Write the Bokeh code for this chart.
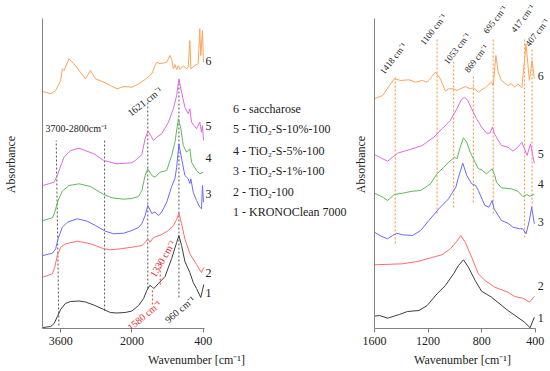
from bokeh.plotting import figure
from bokeh.models import Range1d, FixedTicker, Label, LinearAxis
from bokeh.layouts import row
from bokeh.embed import file_html
from bokeh.resources import INLINE

FONT = "Liberation Serif"

# ---------------- data: left panel (4000-400 cm-1), stacked absorbance (a.u.) ----------------
left_wn_1 = [4000, 3823, 3747, 3674, 3600, 3495, 3377, 3189, 3042, 2855, 2631, 2484, 2334, 2150, 2000,
             1850, 1738, 1665, 1598, 1553, 1508, 1404, 1256, 1107, 995, 944, 884, 810, 698, 622, 548, 453, 386]
left_ab_1 = [1, 2, 5, 12, 19, 25, 27, 27.5, 26.5, 23.5, 19, 16, 15.5, 16, 17.5,
             23, 30, 38, 43, 42, 40, 45, 52, 70, 86, 93, 83, 67, 56, 46, 40, 31, 44]

left_wn_2 = [4000, 3785, 3733, 3674, 3600, 3488, 3227, 2930, 2631, 2484, 2261, 2000, 1776, 1703, 1643,
             1591, 1515, 1330, 1180, 1069, 995, 944, 884, 810, 698, 548, 437, 386]
left_ab_2 = [51.3, 54.7, 61.3, 73, 81.3, 84.7, 87.3, 84.7, 79.7, 78.7, 79.7, 81.3, 83, 86, 89.7,
             86.3, 91, 94, 98, 103, 109, 115.5, 104.7, 89.7, 74.7, 64, 56, 61]

left_wn_3 = [4000, 3785, 3712, 3659, 3562, 3450, 3227, 3005, 2819, 2596, 2410, 2185, 2000, 1850, 1776,
             1703, 1643, 1553, 1480, 1404, 1330, 1218, 1107, 1033, 995, 944, 884, 810, 734, 698, 676,
             622, 548, 475, 437, 415, 392]
left_ab_3 = [73, 75.3, 79.7, 89.7, 101.3, 106.3, 109.7, 107.3, 103, 97.3, 94.7, 95.3, 98, 101, 105,
             113, 123, 115, 116.5, 113, 116.5, 126.3, 142, 150, 161, 184.5, 170, 153, 149.7, 145, 149.7,
             136.3, 128, 121.3, 119.7, 143, 126.3]

left_wn_4 = [4000, 3785, 3733, 3659, 3562, 3413, 3189, 2930, 2631, 2446, 2185, 2000, 1850, 1776, 1703,
             1643, 1553, 1480, 1368, 1218, 1107, 1033, 957, 899, 846, 771, 698, 660, 548, 475, 399]
left_ab_4 = [108, 110.7, 116.3, 128, 137.3, 143, 144.7, 142, 134, 130.7, 129.3, 130, 132, 138, 153,
             159.7, 153, 151.3, 156.3, 158, 173, 186.3, 209.7, 199.7, 183, 176.3, 179.7, 166.3, 158, 154.7, 156.3]

left_wn_5 = [4000, 3747, 3674, 3636, 3524, 3377, 3189, 2855, 2631, 2334, 2000, 1926, 1776, 1703, 1636,
             1515, 1442, 1330, 1180, 1069, 995, 944, 884, 810, 734, 698, 660, 548, 475, 437, 415, 392]
left_ab_5 = [143, 146.3, 153, 158, 171.3, 178, 180.3, 174.7, 168, 164.7, 165.7, 168, 174, 190, 197.5,
             188, 191.3, 194.7, 206.3, 219.7, 233, 249.7, 236.3, 221.3, 214.7, 219.7, 206.3, 199.7, 206.3, 196.3, 203, 188]

left_wn_6 = [4000, 3823, 3712, 3600, 3562, 3524, 3413, 3301, 3042, 2930, 2819, 2631, 2484, 2334, 2178,
             2000, 1850, 1703, 1553, 1480, 1442, 1368, 1218, 1145, 1107, 1069, 1033, 995, 957, 922,
             846, 771, 734, 698, 676, 587, 511, 475, 453, 415, 392]
left_ab_6 = [237, 234.7, 238, 248, 259.7, 258, 269.7, 264.7, 249.7, 258, 249.7, 246.3, 243, 239.7, 242,
             241.3, 244.7, 249, 254.7, 263, 266.3, 264.7, 266.3, 273, 269.7, 259.7, 264, 259, 263, 259,
             262.5, 260, 261.3, 288, 259.7, 263, 264.7, 299.7, 273, 298, 266.3]

# ---------------- data: right panel (1600-400 cm-1) ----------------
right_wn_1 = [1600, 1563, 1502, 1415, 1354, 1268, 1207, 1133, 1071, 1010, 973, 936, 899, 849, 801, 727, 604, 480, 439, 407]
right_ab_1 = [12.3, 13, 10.3, 14, 17, 18, 23, 34.7, 43, 54.7, 63, 68.7, 61.3, 48, 37.3, 31.3, 18, 6.3, 0.7, 11.3]

right_wn_2 = [1600, 1391, 1268, 1145, 1096, 1034, 985, 956, 923, 875, 825, 776, 702, 604, 554, 493, 444, 407]
right_ab_2 = [63.7, 64.7, 67.3, 72, 73.7, 79.7, 87.3, 93, 86.3, 71.3, 54.7, 48, 41.3, 36.3, 32, 30.3, 26.3, 32]

right_wn_3 = [1600, 1551, 1502, 1465, 1435, 1391, 1317, 1255, 1194, 1120, 1047, 1017, 993, 973, 941, 911,
              875, 845, 825, 776, 746, 722, 707, 653, 604, 567, 517, 493, 469, 444, 427, 407]
right_ab_3 = [96.3, 92.3, 89.7, 93, 95.3, 93.7, 93, 98, 108, 119.7, 129.7, 136.3, 141.3, 151.3, 165.3, 153,
              144.7, 143, 138, 123, 121.3, 128, 119.7, 108, 105.3, 101.3, 99.7, 99.7, 94.7, 108, 121.3, 104.7]

right_wn_4 = [1600, 1539, 1502, 1452, 1391, 1317, 1255, 1182, 1133, 1083, 1047, 1002, 985, 960, 936, 911,
              886, 855, 825, 801, 764, 722, 702, 690, 653, 579, 530, 493, 461, 444, 407]
right_ab_4 = [135.3, 131.3, 128, 134, 135.3, 137.3, 138, 144.7, 154.7, 161.3, 166.3, 171.3, 169.7, 181.3, 190.7, 186.3,
              176.3, 168, 159.7, 158.7, 154.7, 159.7, 153, 146.3, 140.7, 139.7, 137.3, 132, 134, 132.3, 134]

right_wn_5 = [1600, 1539, 1502, 1465, 1428, 1342, 1244, 1157, 1096, 1034, 985, 953, 928, 904, 875, 838,
              801, 764, 739, 720, 702, 653, 604, 567, 530, 500, 461, 436, 407]
right_ab_5 = [174, 169.7, 167.3, 171.3, 175.3, 178.7, 183, 191.3, 199.7, 208, 219.7, 228.7, 231.3, 228, 219.7, 209.7,
              201.3, 195.3, 195.3, 201.3, 194, 183, 181.3, 177.3, 181.3, 186.3, 173, 184.7, 165.3]

right_wn_6 = [1600, 1539, 1489, 1452, 1403, 1342, 1292, 1244, 1207, 1145, 1108, 1071, 1047, 1010, 985, 923,
              886, 862, 825, 764, 727, 714, 694, 677, 653, 604, 579, 554, 530, 500, 469, 444, 424, 407]
right_ab_6 = [229.7, 233, 243, 249.7, 248, 248.7, 246.3, 248, 246.3, 256.3, 249.7, 237.3, 239.7, 239.7, 238, 242,
              239.7, 240.7, 236.3, 242, 246.3, 243, 273, 256.3, 248, 243, 244.7, 241.3, 244.7, 240.7, 284.7, 248, 268, 249.7]

series_numbers = ["1", "2", "3", "4", "5", "6"]
legend_labels = ["6 - saccharose", "5 - TiO\u2082-S-10%-100", "4 - TiO\u2082-S-5%-100",
                 "3 - TiO\u2082-S-1%-100", "2 - TiO\u2082-100", "1 - KRONOClean 7000"]
left_ticks = [3600, 2000, 400]
right_ticks = [1600, 1200, 800, 400]

# band markers
left_marks_x0 = [3640, 2613, 1643, 944]
left_marks_x1 = [3700, 2613, 1643, 944]
left_marks_top = [188, 188, 228, 248]
left_marks_bot = [3, 18, 40, 31]
red_marks_x = [1540, 1364]
red_marks_top = [40, 66]
red_marks_bot = [24, 44]
right_marks_x = [1445, 1133, 1010, 862, 714, 480, 424]
right_marks_top = [251, 291, 268, 253, 290, 290, 281]
right_marks_bot = [85, 115, 121, 126, 115, 91, 121]
right_mark_labels = ["1418 cm\u207b\u00b9", "1100 cm\u207b\u00b9", "1053 cm\u207b\u00b9", "869 cm\u207b\u00b9",
                     "695 cm\u207b\u00b9", "417 cm\u207b\u00b9", "407 cm\u207b\u00b9"]
right_label_x = [1460, 1161, 984, 840, 700, 493, 386]
right_label_y = [270, 299, 280, 270, 309, 310, 296]

COLORS = ["#3c3c3c", "#ff6b6b", "#6a6aff", "#5cb85c", "#e06ae0", "#ffa35a"]
ORANGE_DOT = "#f7a050"
AXIS_GRAY = "#808080"


def base_fig(width, xr, bounds, ticks, bl, label_bounds, label_standoff):
    p = figure(width=width, height=371, output_backend="svg", toolbar_location=None,
               x_range=Range1d(*xr), y_range=Range1d(0, 328),
               min_border_left=bl, min_border_right=0, min_border_top=0, min_border_bottom=43)
    p.outline_line_color = None
    p.grid.visible = False
    p.background_fill_color = "white"
    p.border_fill_color = "white"
    xa = p.xaxis[0]
    xa.bounds = bounds
    xa.ticker = FixedTicker(ticks=ticks)
    xa.minor_tick_line_color = None
    xa.major_tick_in = 0
    xa.major_tick_out = 4
    xa.major_tick_line_color = AXIS_GRAY
    xa.axis_line_color = AXIS_GRAY
    xa.major_label_text_font = FONT
    xa.major_label_text_font_size = "12px"
    xa.major_label_text_color = "#222222"
    xa.major_label_standoff = 4
    xa.axis_label = "Wavenumber [cm\u207b\u00b9]"
    xa.axis_label_text_font = FONT
    xa.axis_label_text_font_size = "12px"
    xa.axis_label_text_font_style = "normal"
    xa.axis_label_text_color = "#222222"
    xa.axis_label_standoff = 5
    ya = p.yaxis[0]
    ya.bounds = (0, 310)
    ya.ticker = FixedTicker(ticks=[])
    ya.minor_tick_line_color = None
    ya.major_tick_line_color = None
    ya.major_tick_out = 0
    ya.major_label_standoff = 0
    ya.major_label_text_font_size = "0px"
    ya.axis_line_color = AXIS_GRAY
    lab = LinearAxis(bounds=label_bounds, ticker=FixedTicker(ticks=[]), axis_line_color=None,
                     major_tick_line_color=None, minor_tick_line_color=None, major_tick_out=0,
                     major_label_standoff=0, major_label_text_font_size="0px",
                     axis_label="Absorbance", axis_label_text_font=FONT,
                     axis_label_text_font_size="12px", axis_label_text_font_style="normal",
                     axis_label_text_color="#222222", axis_label_standoff=label_standoff)
    p.add_layout(lab, "left")
    return p


def txt(p, x, y, s, size="12px", color="#222222", angle=0, align="left", baseline="middle"):
    p.add_layout(Label(x=x, y=y, text=s, text_font=FONT, text_font_size=size, text_color=color,
                       angle=angle, angle_units="deg", text_align=align, text_baseline=baseline))


# ---------------- left figure ----------------
pl = base_fig(350, (4008, -2910), (371, 4008), left_ticks, 40, (46, 310), 25)
left_series = [(left_wn_1, left_ab_1), (left_wn_2, left_ab_2), (left_wn_3, left_ab_3),
               (left_wn_4, left_ab_4), (left_wn_5, left_ab_5), (left_wn_6, left_ab_6)]
pl.segment(x0=left_marks_x0, y0=left_marks_bot, x1=left_marks_x1, y1=left_marks_top,
           line_color="#555555", line_width=1, line_dash="2 2")
pl.segment(x0=red_marks_x, y0=red_marks_bot, x1=red_marks_x, y1=red_marks_top,
           line_color="#ff3333", line_width=1, line_dash="2 2")
for (wn, ab), c in zip(left_series, COLORS):
    pl.line(wn, ab, line_color=c, line_width=1)

left_num_y = [36, 56, 135, 171, 203, 268]
for n, y in zip(series_numbers, left_num_y):
    txt(pl, 348, y, n)
legend_y = [220, 199.7, 178, 157.3, 136.3, 116.3]
for s, y in zip(legend_labels, legend_y):
    txt(pl, -270, y, s)
txt(pl, 3941, 200, "3700-2800cm\u207b\u00b9", size="10px")
txt(pl, 1710, 227, "1621 cm\u207b\u00b9", size="10px", angle=38, align="center")
txt(pl, 923, 19, "960 cm\u207b\u00b9", size="10px", angle=40, align="center")
txt(pl, 1721, 13, "1580 cm\u207b\u00b9", size="10px", angle=40, align="center", color="#e8282a")
txt(pl, 1307, 70, "1330 cm\u207b\u00b9", size="10px", angle=60, align="center", color="#e8282a")

# ---------------- right figure ----------------
pr = base_fig(200, (1600, 286.5), (398, 1600), right_ticks, 23, (52, 310), 7)
right_series = [(right_wn_1, right_ab_1), (right_wn_2, right_ab_2), (right_wn_3, right_ab_3),
                (right_wn_4, right_ab_4), (right_wn_5, right_ab_5), (right_wn_6, right_ab_6)]
pr.segment(x0=right_marks_x, y0=right_marks_bot, x1=right_marks_x, y1=right_marks_top,
           line_color=ORANGE_DOT, line_width=1.2, line_dash="2 2")
for (wn, ab), c in zip(right_series, COLORS):
    pr.line(wn, ab, line_color=c, line_width=1)
right_num_y = [11, 43, 107, 145, 175, 253]
for n, y in zip(series_numbers, right_num_y):
    txt(pr, 382, y, n)
for s, x, y in zip(right_mark_labels, right_label_x, right_label_y):
    txt(pr, x, y, s, size="9px", angle=52, align="center")

layout = row(pl, pr)
open("out.html", "w").write(file_html(layout, INLINE))
